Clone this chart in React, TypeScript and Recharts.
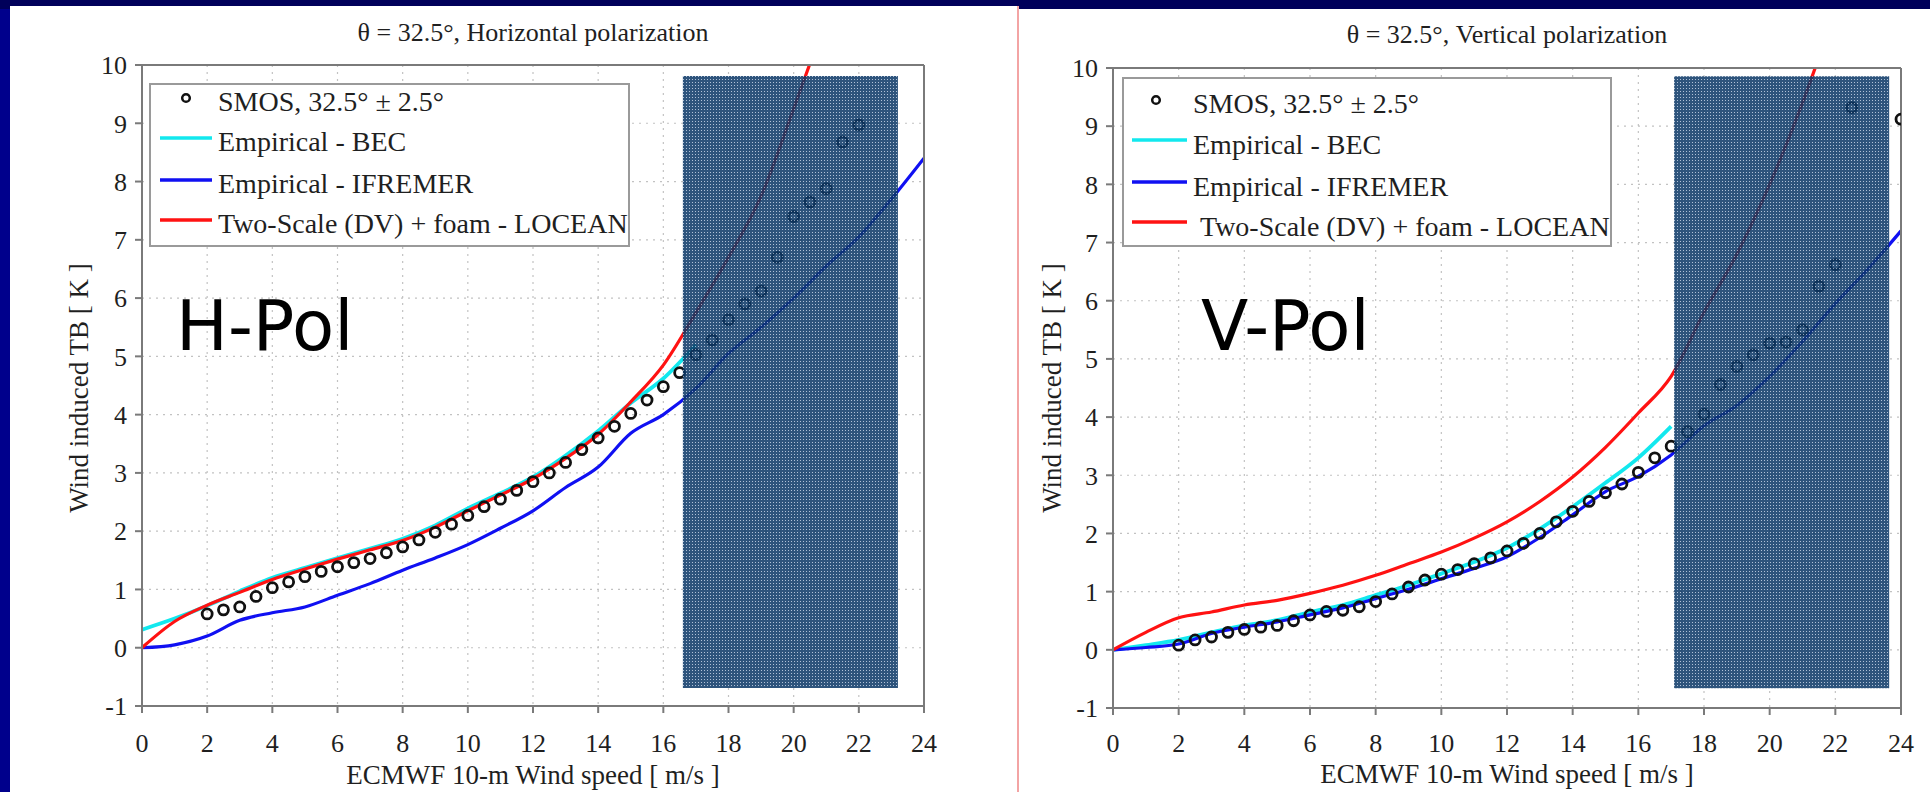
import React from 'react';
import { ComposedChart, Line, Scatter, XAxis, YAxis, CartesianGrid, ReferenceArea, Legend } from 'recharts';

// ---------- data ----------
const modelSpeeds = [0, 1, 2, 3, 4, 5, 6, 7, 8, 9, 10, 11, 12, 13, 14, 15, 16, 17, 18, 19, 20, 21, 22, 23, 24];

// Horizontal polarization
const hBec = [0.31, 0.5, 0.72, 0.97, 1.2, 1.37, 1.54, 1.7, 1.87, 2.1, 2.39, 2.65, 2.93, 3.3, 3.72, 4.2, 4.62, 5.2];
const hIfremer = [0, 0.05, 0.2, 0.47, 0.6, 0.7, 0.9, 1.1, 1.33, 1.54, 1.77, 2.05, 2.35, 2.75, 3.1, 3.68, 4.0, 4.45, 5.05, 5.5, 6.0, 6.55, 7.05, 7.7, 8.4];
const hLocean = [0, 0.45, 0.73, 0.95, 1.17, 1.35, 1.52, 1.68, 1.84, 2.07, 2.35, 2.62, 2.9, 3.25, 3.66, 4.22, 4.85, 5.75, 6.7, 7.75, 9.25, 10.8];

const smosSpeedsH = [2, 2.5, 3, 3.5, 4, 4.5, 5, 5.5, 6, 6.5, 7, 7.5, 8, 8.5, 9, 9.5, 10, 10.5, 11, 11.5, 12, 12.5, 13, 13.5, 14, 14.5, 15, 15.5, 16, 16.5, 17, 17.5, 18, 18.5, 19, 19.5, 20, 20.5, 21, 21.5, 22];
const smosH = [0.58, 0.65, 0.7, 0.88, 1.03, 1.13, 1.22, 1.31, 1.39, 1.46, 1.53, 1.63, 1.73, 1.85, 1.98, 2.12, 2.27, 2.42, 2.55, 2.7, 2.85, 3.0, 3.18, 3.4, 3.6, 3.8, 4.02, 4.25, 4.48, 4.72, 5.03, 5.28, 5.63, 5.9, 6.12, 6.7, 7.4, 7.65, 7.88, 8.68, 8.97];

// Vertical polarization
const vBec = [0, 0.08, 0.17, 0.3, 0.42, 0.51, 0.65, 0.77, 0.94, 1.11, 1.31, 1.51, 1.75, 2.08, 2.46, 2.87, 3.3, 3.84];
const vIfremer = [0, 0.04, 0.1, 0.28, 0.39, 0.48, 0.6, 0.72, 0.88, 1.04, 1.22, 1.4, 1.6, 1.93, 2.32, 2.72, 2.98, 3.35, 3.85, 4.2, 4.7, 5.3, 5.95, 6.55, 7.2];
const vLocean = [0, 0.3, 0.55, 0.65, 0.77, 0.85, 0.97, 1.11, 1.28, 1.48, 1.68, 1.92, 2.2, 2.55, 2.97, 3.48, 4.07, 4.7, 5.8, 6.8, 8.0, 9.4, 11.0];

const smosSpeedsV = [2, 2.5, 3, 3.5, 4, 4.5, 5, 5.5, 6, 6.5, 7, 7.5, 8, 8.5, 9, 9.5, 10, 10.5, 11, 11.5, 12, 12.5, 13, 13.5, 14, 14.5, 15, 15.5, 16, 16.5, 17, 17.5, 18, 18.5, 19, 19.5, 20, 20.5, 21, 21.5, 22, 22.5, 23, 23.5, 24];
const smosV: (number | null)[] = [0.08, 0.17, 0.22, 0.3, 0.35, 0.39, 0.42, 0.5, 0.6, 0.66, 0.68, 0.74, 0.83, 0.96, 1.08, 1.2, 1.3, 1.38, 1.48, 1.58, 1.7, 1.83, 2.0, 2.2, 2.38, 2.55, 2.7, 2.85, 3.05, 3.3, 3.5, 3.75, 4.05, 4.56, 4.87, 5.07, 5.27, 5.29, 5.5, 6.25, 6.62, 9.32, null, null, 9.12];

const xTicks = [0, 2, 4, 6, 8, 10, 12, 14, 16, 18, 20, 22, 24];
const yTicks = [-1, 0, 1, 2, 3, 4, 5, 6, 7, 8, 9, 10];

const legendLabels = ['SMOS, 32.5\u00b0 \u00b1 2.5\u00b0', 'Empirical - BEC', 'Empirical - IFREMER', 'Two-Scale (DV) + foam - LOCEAN'];
const titleH = '\u03b8 = 32.5\u00b0, Horizontal polarization';
const titleV = '\u03b8 = 32.5\u00b0, Vertical polarization';
const xLabel = 'ECMWF 10-m Wind speed [ m/s ]';
const yLabel = 'Wind induced TB [ K ]';

// ---------- styles ----------
const CYAN = '#12e8ee';
const BLUE = '#1010f2';
const RED = '#ff1212';
const SERIF = '"Liberation Serif", "Times New Roman", serif';
const TEXT = '#1f1f1f';

const toPoints = (xs: number[], ys: (number | null)[]) =>
  ys.map((y, i) => ({ x: xs[i], y })).filter((p) => p.y !== null && p.y !== undefined);

const Circle = (p: any) => {
  if (p.cx == null || p.cy == null) return null;
  return <circle cx={p.cx} cy={p.cy} r={5} fill="none" stroke="#111" strokeWidth={2.8} />;
};

type LegendCfg = {
  w: number;
  h: number;
  markerX: number;
  markerY: number;
  smosBase: number;
  lineX1: number;
  lineX2: number;
  lineYs: number[];
  baseOff: number;
  textX: number;
  lastTextX: number;
};

function LegendBox({ cfg }: { cfg: LegendCfg }) {
  const colors = [CYAN, BLUE, RED];
  return (
    <svg width={cfg.w} height={cfg.h} style={{ display: 'block' }}>
      <rect x={1} y={1} width={cfg.w - 2} height={cfg.h - 2} fill="#fff" stroke="#9a9a9a" strokeWidth={2} />
      <circle cx={cfg.markerX} cy={cfg.markerY} r={3.8} fill="none" stroke="#111" strokeWidth={2.5} />
      <text x={cfg.textX} y={cfg.smosBase} fontFamily={SERIF} fontSize={28} fill={TEXT}>
        {legendLabels[0]}
      </text>
      {cfg.lineYs.map((ly, i) => (
        <g key={i}>
          <line x1={cfg.lineX1} x2={cfg.lineX2} y1={ly} y2={ly} stroke={colors[i]} strokeWidth={3.5} />
          <text x={i === 2 ? cfg.lastTextX : cfg.textX} y={ly + cfg.baseOff} fontFamily={SERIF} fontSize={28} fill={TEXT}>
            {legendLabels[i + 1]}
          </text>
        </g>
      ))}
    </svg>
  );
}

type PanelProps = {
  width: number;
  height: number;
  margin: { top: number; right: number; bottom: number; left: number };
  bec: number[];
  ifremer: number[];
  locean: number[];
  smosX: number[];
  smosY: (number | null)[];
  box: { x1: number; x2: number; y1: number; y2: number };
  patternId: string;
  tickMarginX: number;
  legendPos: { left: number; top: number };
  legend: LegendCfg;
};

function Panel(props: PanelProps) {
  const { width, height, margin, bec, ifremer, locean, smosX, smosY, box, patternId, legendPos, legend } = props;
  const tickStyle = { fontSize: 26, fontFamily: SERIF, fill: TEXT };
  const axisColor = '#7a7a7a';
  return (
    <ComposedChart width={width} height={height} margin={margin}>
      <defs>
        <pattern id={patternId} patternUnits="userSpaceOnUse" width={3} height={3}>
          <rect width={3} height={3} fill="#0c3866" />
          <rect x={1} y={1} width={1} height={1} fill="#a3b7d0" />
        </pattern>
      </defs>
      <CartesianGrid stroke="#c2c2c2" strokeDasharray="2 5" strokeWidth={1.2} />
      <XAxis
        dataKey="x"
        type="number"
        domain={[0, 24]}
        ticks={xTicks}
        interval={0}
        tick={tickStyle}
        tickSize={7}
        tickMargin={props.tickMarginX}
        height={50}
        stroke={axisColor}
        strokeWidth={2}
        allowDataOverflow
      />
      <XAxis
        xAxisId="top"
        orientation="top"
        type="number"
        domain={[0, 24]}
        ticks={xTicks}
        interval={0}
        tick={false}
        tickSize={7}
        height={1}
        stroke={axisColor}
        strokeWidth={2}
        allowDataOverflow
      />
      <YAxis
        dataKey="y"
        type="number"
        domain={[-1, 10]}
        ticks={yTicks}
        interval={0}
        tick={tickStyle}
        tickSize={7}
        tickMargin={8}
        width={60}
        stroke={axisColor}
        strokeWidth={2}
        allowDataOverflow
      />
      <YAxis
        yAxisId="right"
        orientation="right"
        type="number"
        domain={[-1, 10]}
        ticks={yTicks}
        interval={0}
        tick={false}
        tickSize={7}
        width={1}
        stroke={axisColor}
        strokeWidth={2}
        allowDataOverflow
      />
      <Line
        data={toPoints(modelSpeeds, bec)}
        dataKey="y"
        type="monotone"
        stroke={CYAN}
        strokeWidth={3.8}
        dot={false}
        isAnimationActive={false}
      />
      <Line
        data={toPoints(modelSpeeds, ifremer)}
        dataKey="y"
        type="monotone"
        stroke={BLUE}
        strokeWidth={3.2}
        dot={false}
        isAnimationActive={false}
      />
      <Line
        data={toPoints(modelSpeeds, locean)}
        dataKey="y"
        type="monotone"
        stroke={RED}
        strokeWidth={3.2}
        dot={false}
        isAnimationActive={false}
      />
      <Scatter data={toPoints(smosX, smosY)} dataKey="y" shape={Circle} isAnimationActive={false} />
      <ReferenceArea
        x1={box.x1}
        x2={box.x2}
        y1={box.y1}
        y2={box.y2}
        fill={`url(#${patternId})`}
        fillOpacity={0.86}
        stroke="none"
        ifOverflow="visible"
        zIndex={1000}
      />
      <Legend
        layout="vertical"
        align="center"
        verticalAlign="middle"
        wrapperStyle={{ left: legendPos.left, top: legendPos.top, width: legend.w, height: legend.h }}
        content={() => <LegendBox cfg={legend} />}
      />
    </ComposedChart>
  );
}

export default function App() {
  const textCommon = { fontFamily: SERIF, fill: TEXT } as const;
  const sans = '"DejaVu Sans", Verdana, sans-serif';
  return (
    <div style={{ position: 'absolute', left: 0, top: 0, width: 1930, height: 792, background: '#00008c', overflow: 'hidden' }}>
      <div style={{ position: 'absolute', left: 0, top: 0, width: 1930, height: 9, background: '#00005a' }} />
      <div style={{ position: 'absolute', left: 10, top: 6, width: 1007, height: 786, background: '#fff' }}>
        <Panel
          width={1007}
          height={786}
          margin={{ top: 58, right: 92, bottom: 36, left: 72 }}
          bec={hBec}
          ifremer={hIfremer}
          locean={hLocean}
          smosX={smosSpeedsH}
          smosY={smosH}
          box={{ x1: 16.6, x2: 23.2, y1: -0.69, y2: 9.81 }}
          patternId="boxPatH"
          tickMarginX={21}
          legendPos={{ left: 139, top: 77 }}
          legend={{ w: 481, h: 164, markerX: 37, markerY: 15, smosBase: 28, lineX1: 11, lineX2: 63, lineYs: [55, 97, 137], baseOff: 13, textX: 69, lastTextX: 69 }}
        />
      </div>
      <div style={{ position: 'absolute', left: 1017, top: 6, width: 2, height: 786, background: '#f3a4a4' }} />
      <div style={{ position: 'absolute', left: 1019, top: 9, width: 911, height: 783, background: '#fff' }}>
        <Panel
          width={911}
          height={783}
          margin={{ top: 58, right: 28, bottom: 34, left: 34 }}
          bec={vBec}
          ifremer={vIfremer}
          locean={vLocean}
          smosX={smosSpeedsV}
          smosY={smosV}
          box={{ x1: 17.09, x2: 23.64, y1: -0.66, y2: 9.86 }}
          patternId="boxPatV"
          tickMarginX={19}
          legendPos={{ left: 103, top: 68 }}
          legend={{ w: 490, h: 170, markerX: 34, markerY: 23, smosBase: 36, lineX1: 10, lineX2: 65, lineYs: [63, 105, 145], baseOff: 14, textX: 71, lastTextX: 78 }}
        />
      </div>
      <svg width={1930} height={792} style={{ position: 'absolute', left: 0, top: 0, pointerEvents: 'none' }}>
        <text x={533} y={41} textAnchor="middle" fontSize={26} {...textCommon}>{titleH}</text>
        <text x={1507} y={43} textAnchor="middle" fontSize={26} {...textCommon}>{titleV}</text>
        <text x={533} y={784} textAnchor="middle" fontSize={27} {...textCommon}>{xLabel}</text>
        <text x={1507} y={783} textAnchor="middle" fontSize={27} {...textCommon}>{xLabel}</text>
        <text x={0} y={0} textAnchor="middle" fontSize={27} transform="translate(88,388) rotate(-90)" {...textCommon}>{yLabel}</text>
        <text x={0} y={0} textAnchor="middle" fontSize={27} transform="translate(1061,388) rotate(-90)" {...textCommon}>{yLabel}</text>
        <text x={176} y={350} fontSize={69} fontFamily={sans} fill="#000">H-Pol</text>
        <text x={1201} y={350} fontSize={69} fontFamily={sans} fill="#000">V-Pol</text>
      </svg>
    </div>
  );
}
